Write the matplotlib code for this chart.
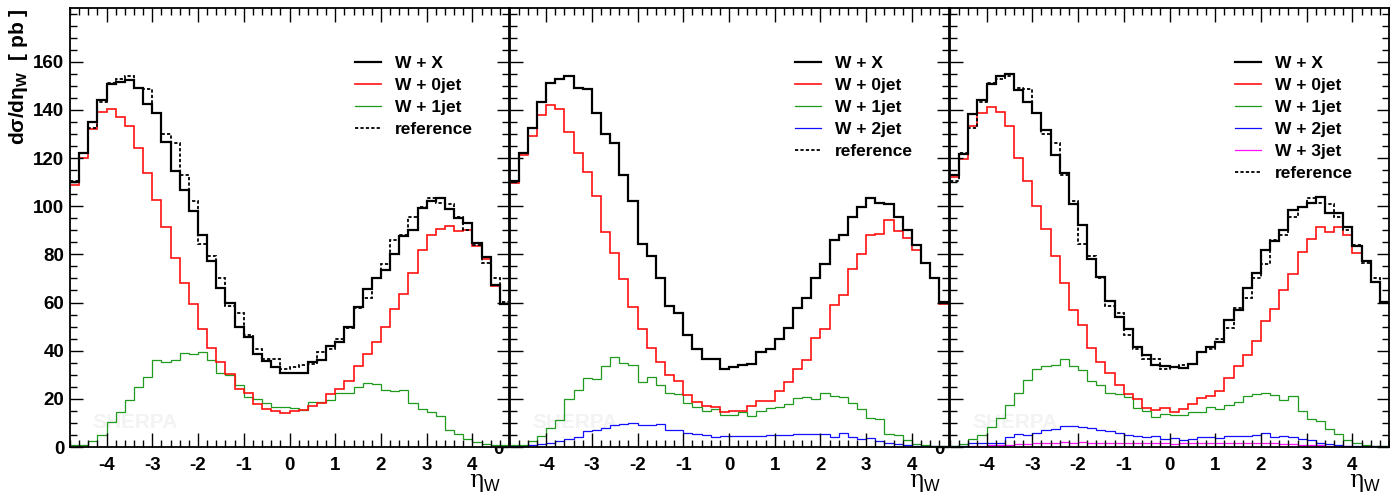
# W + jets pseudorapidity distributions, three merging setups side by side
import numpy as np
import matplotlib.pyplot as plt
from matplotlib.ticker import MultipleLocator, FixedLocator

plt.rcParams['font.family'] = ['Liberation Sans', 'DejaVu Sans']
plt.rcParams['mathtext.fontset'] = 'custom'
plt.rcParams['mathtext.rm'] = 'Liberation Sans'
plt.rcParams['mathtext.bf'] = 'Liberation Sans:bold'

# 48 bins of width 0.2 between -4.8 and 4.8
eta_lo, eta_hi, n_bins = -4.8, 4.8, 48

reference = [110.4, 122.2, 132.5, 143.4, 151.0, 152.9, 154.0, 149.1, 148.7, 138.6, 130.0, 126.3,
             113.1, 102.2, 84.4, 79.4, 70.1, 58.5, 55.8, 46.4, 40.7, 36.6, 36.6, 32.3,
             33.2, 34.1, 34.5, 39.3, 40.8, 44.9, 49.5, 57.8, 61.9, 70.3, 75.9, 85.9,
             88.0, 95.5, 99.6, 103.5, 101.2, 101.0, 95.4, 90.2, 84.0, 76.5, 70.1, 60.2]

# panel 1: up to 1 jet
wx_p1 = [110.2, 122.0, 134.8, 144.0, 150.7, 151.6, 152.5, 149.0, 142.6, 138.5, 126.7, 114.6,
         106.7, 97.8, 88.0, 77.4, 66.0, 60.0, 50.0, 45.6, 38.5, 35.6, 33.4, 30.8,
         30.8, 30.8, 35.3, 36.2, 41.9, 43.5, 50.0, 58.3, 65.6, 70.0, 73.4, 80.0,
         87.7, 90.3, 99.2, 102.3, 103.5, 98.9, 95.2, 93.2, 84.6, 78.9, 67.4, 59.5]
jet0_p1 = [108.9, 120.0, 132.2, 139.0, 140.4, 137.0, 133.3, 124.1, 113.8, 102.6, 91.4, 78.3,
           68.1, 59.2, 48.8, 41.3, 35.1, 30.2, 24.0, 22.6, 17.9, 15.8, 15.1, 14.1,
           14.9, 15.4, 17.2, 18.1, 22.0, 24.0, 27.4, 33.6, 38.7, 43.7, 49.7, 57.2,
           63.7, 72.2, 81.7, 87.9, 90.7, 91.8, 89.9, 90.2, 83.6, 77.9, 67.0, 59.2]
jet1_p1 = [0.7, 0.7, 2.5, 4.8, 10.3, 14.5, 19.5, 25.0, 29.0, 36.0, 35.2, 36.3,
           39.2, 38.6, 39.6, 36.3, 30.8, 29.7, 25.6, 20.6, 19.9, 18.1, 16.8, 16.8,
           16.1, 15.4, 18.6, 18.6, 19.6, 22.6, 22.6, 25.0, 26.7, 26.0, 23.7, 23.3,
           23.7, 18.3, 15.8, 14.5, 12.8, 7.2, 5.3, 3.5, 1.9, 1.4, 1.0, 0.7]

# panel 2: up to 2 jets
wx_p2 = [110.4, 122.2, 132.5, 143.4, 151.0, 152.9, 154.0, 149.1, 148.7, 138.6, 130.0, 126.3,
         113.1, 102.2, 84.4, 79.4, 70.1, 58.5, 55.8, 46.4, 40.7, 36.6, 36.6, 32.3,
         33.2, 34.1, 34.5, 39.3, 40.8, 44.9, 49.5, 57.8, 61.9, 70.3, 75.9, 85.9,
         88.0, 95.5, 99.6, 103.5, 101.2, 101.0, 95.4, 90.2, 84.0, 76.5, 70.1, 60.2]
jet0_p2 = [109.8, 121.3, 129.2, 137.7, 142.0, 140.2, 131.0, 122.0, 114.0, 104.2, 89.2, 80.4,
           69.7, 58.3, 49.0, 41.2, 35.5, 29.7, 27.4, 21.6, 18.6, 16.9, 16.6, 14.7,
           15.1, 14.9, 16.9, 19.2, 19.2, 23.3, 27.0, 32.2, 36.3, 45.4, 49.2, 59.1,
           63.2, 74.1, 80.2, 88.1, 88.3, 94.3, 89.5, 86.9, 82.0, 76.4, 70.0, 59.5]
jet1_p2 = [0.8, 0.8, 2.6, 4.5, 7.9, 11.3, 19.9, 23.7, 28.5, 28.4, 33.6, 37.2,
           34.7, 34.0, 27.1, 29.2, 25.6, 22.4, 22.0, 18.3, 16.5, 14.9, 15.6, 13.4,
           13.4, 14.7, 12.8, 15.1, 16.1, 16.5, 17.9, 20.2, 20.6, 19.9, 22.6, 21.0,
           20.6, 18.3, 15.6, 12.1, 11.7, 5.6, 4.9, 2.9, 1.2, 0.8, 0.4, 0.3]
jet2_p2 = [0.4, 0.4, 1.0, 1.1, 1.8, 2.6, 3.5, 4.2, 6.5, 7.0, 7.9, 9.3,
           9.4, 10.1, 9.0, 9.3, 9.4, 7.0, 7.0, 6.0, 5.6, 4.9, 4.2, 4.6,
           4.6, 4.6, 4.6, 4.6, 5.0, 5.0, 5.0, 5.3, 5.6, 5.3, 5.6, 4.0,
           5.9, 4.0, 3.5, 3.8, 2.6, 1.8, 1.2, 0.8, 0.5, 0.4, 0.3, 0.3]

# panel 3: up to 3 jets
wx_p3 = [113.1, 121.8, 138.3, 144.3, 150.9, 154.0, 154.8, 148.2, 143.4, 138.9, 131.8, 121.1,
         113.6, 100.8, 92.2, 77.9, 70.4, 60.8, 54.0, 49.2, 41.5, 38.1, 34.2, 33.8,
         33.2, 32.9, 34.5, 39.3, 41.7, 43.8, 52.7, 56.8, 65.9, 72.4, 82.0, 85.7,
         90.2, 98.4, 99.5, 101.4, 103.8, 97.3, 97.0, 91.5, 83.4, 77.2, 68.6, 60.2]
jet0_p3 = [112.3, 119.5, 133.2, 138.6, 141.3, 139.3, 133.4, 119.9, 110.4, 100.0, 90.6, 79.3,
           68.3, 57.0, 50.6, 41.1, 35.3, 30.8, 25.8, 22.0, 19.9, 16.1, 15.4, 16.1,
           14.7, 15.6, 17.9, 20.2, 21.0, 23.3, 28.8, 33.7, 38.3, 44.1, 52.3, 57.4,
           65.3, 72.0, 81.0, 86.5, 91.5, 89.2, 91.3, 88.1, 80.6, 77.2, 68.6, 60.2]
jet1_p3 = [0.4, 1.1, 3.5, 4.9, 8.3, 12.0, 17.5, 22.4, 27.8, 32.5, 33.6, 34.2,
           36.6, 33.8, 31.8, 27.4, 25.6, 22.6, 22.0, 20.6, 16.1, 15.1, 12.4, 13.8,
           13.1, 13.4, 14.5, 14.7, 16.5, 15.8, 17.5, 18.8, 21.3, 22.2, 22.6, 21.6,
           19.6, 21.0, 15.1, 11.7, 11.0, 7.6, 5.2, 2.9, 1.5, 0.7, 0.4, 0.3]
jet2_p3 = [0.3, 0.4, 1.8, 1.8, 1.5, 1.8, 4.2, 5.2, 4.9, 5.9, 7.0, 7.4,
           8.6, 8.7, 8.3, 7.9, 7.2, 6.5, 5.9, 4.9, 4.5, 4.2, 4.5, 3.5,
           3.8, 3.1, 3.5, 4.0, 4.0, 3.8, 4.5, 4.6, 4.6, 4.9, 6.0, 4.2,
           4.6, 4.2, 3.5, 3.1, 1.5, 1.1, 0.7, 0.3, 0.3, 0.3, 0.3, 0.3]
jet3_p3 = [0.1, 0.2, 0.4, 0.5, 0.7, 0.9, 1.0, 1.2, 1.3, 1.5, 1.6, 1.8,
           1.9, 1.8, 2.0, 1.8, 1.7, 1.8, 1.6, 1.7, 1.5, 1.6, 1.5, 1.6,
           1.4, 1.5, 1.6, 1.5, 1.6, 1.7, 1.5, 1.6, 1.7, 1.6, 1.5, 1.5,
           1.4, 1.2, 1.0, 0.9, 0.7, 0.5, 0.4, 0.3, 0.2, 0.2, 0.1, 0.1]

x_ticks = [-4, -3, -2, -1, 0, 1, 2, 3, 4]
y_ticks = [0, 20, 40, 60, 80, 100, 120, 140, 160]

# line styles per sample
styles = {
    'W + X':     dict(color='black', lw=1.6),
    'W + 0jet':  dict(color='#ff1010', lw=1.2),
    'W + 1jet':  dict(color='#1f9a1f', lw=0.9),
    'W + 2jet':  dict(color='#1010ff', lw=0.9),
    'W + 3jet':  dict(color='#ff10ff', lw=0.9),
    'reference': dict(color='black', lw=1.3, ls=(0, (1.8, 1.2))),
}

panels = [
    [('W + X', wx_p1), ('W + 0jet', jet0_p1), ('W + 1jet', jet1_p1)],
    [('W + X', wx_p2), ('W + 0jet', jet0_p2), ('W + 1jet', jet1_p2), ('W + 2jet', jet2_p2)],
    [('W + X', wx_p3), ('W + 0jet', jet0_p3), ('W + 1jet', jet1_p3), ('W + 2jet', jet2_p3),
     ('W + 3jet', jet3_p3)],
]

edges = np.linspace(eta_lo, eta_hi, n_bins + 1)

fig = plt.figure(figsize=(13.9, 4.97), dpi=100)
W, H = 1390, 497
left_px = [70, 509.5, 950]
width_px = 439
bottom_px, top_px = 447, 8

for i, series in enumerate(panels):
    ax = fig.add_axes([left_px[i] / W, 1 - bottom_px / H, width_px / W, (bottom_px - top_px) / H])
    ax.set_zorder(3 - i)

    ax.text(0.052, 0.034, 'SHERPA', transform=ax.transAxes, fontsize=15, fontweight='bold',
            color='#f3f3f3', ha='left', va='bottom', zorder=0)

    # draw the jet multiplicities first, the total last on top
    for label, vals in reversed(series):
        ax.stairs(vals, edges, baseline=None, **styles[label])
    ax.stairs(reference, edges, baseline=None, zorder=1.9, **styles['reference'])

    ax.set_xlim(eta_lo, eta_hi)
    ax.set_ylim(0, 182.3)

    ax.xaxis.set_major_locator(FixedLocator(x_ticks))
    ax.xaxis.set_minor_locator(MultipleLocator(0.2))
    ax.yaxis.set_major_locator(FixedLocator(y_ticks))
    ax.yaxis.set_minor_locator(MultipleLocator(5))
    ax.tick_params(which='both', direction='in', top=True, right=True, width=1.0)
    ax.tick_params(axis='x', which='major', length=10, pad=7)
    ax.tick_params(axis='x', which='minor', length=5)
    ax.tick_params(axis='y', which='major', length=9, pad=4)
    ax.tick_params(axis='y', which='minor', length=5)
    ax.set_xticks(x_ticks)
    ax.set_xticklabels([str(t) for t in x_ticks], fontsize=13.5, fontweight='bold')
    ax.set_yticks(y_ticks)
    if i == 0:
        ax.set_yticklabels([str(t) for t in y_ticks], fontsize=13.5, fontweight='bold')
    else:
        ax.set_yticklabels(['0'] + [''] * (len(y_ticks) - 1), fontsize=13.5, fontweight='bold')
    for sp in ax.spines.values():
        sp.set_linewidth(1.3)

    # legend, ROOT style without a frame
    entries = [lab for lab, _ in series] + ['reference']
    for k, lab in enumerate(entries):
        y = 0.877 - k * 0.0501
        ax.plot([0.650, 0.709], [y, y], transform=ax.transAxes, **styles[lab])
        ax.text(0.741, y, lab, transform=ax.transAxes, fontsize=12.5, fontweight='bold',
                ha='left', va='center_baseline')

    ax.text(0.982, -0.082, 'η$_{\\rm W}$', transform=ax.transAxes, fontsize=17,
            ha='right', va='center', family='DejaVu Serif')

fig.text(19 / W, 1 - 9 / H, 'dσ/dη$_{\\mathbf{W}}$  [ pb ]', rotation=90, ha='center', va='top',
         fontsize=15, fontweight='bold')

fig.savefig('out.png', dpi=100)
